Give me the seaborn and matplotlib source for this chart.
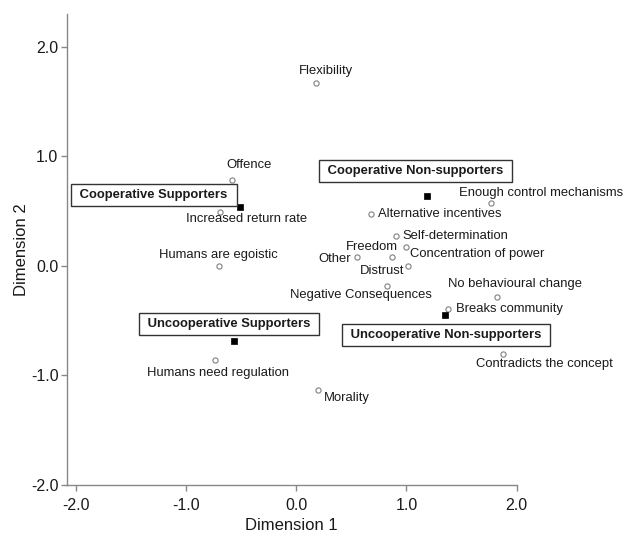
import seaborn as sns
import pandas as pd
import matplotlib.pyplot as plt

# category points (open circles)
cat_names = ['Flexibility', 'Offence', 'Increased return rate', 'Humans are egoistic',
             'Enough control mechanisms', 'Alternative incentives', 'Self-determination',
             'Concentration of power', 'Freedom', 'Other', 'Distrust',
             'Negative Consequences', 'No behavioural change', 'Breaks community',
             'Contradicts the concept', 'Morality', 'Humans need regulation']
cat_dim1 = [0.18, -0.58, -0.69, -0.70, 1.77, 0.68, 0.91, 1.00, 0.87, 0.55, 1.01,
            0.82, 1.82, 1.38, 1.88, 0.20, -0.735]
cat_dim2 = [1.67, 0.78, 0.49, 0.00, 0.57, 0.47, 0.27, 0.17, 0.085, 0.085, 0.00,
            -0.185, -0.28, -0.39, -0.80, -1.13, -0.86]

# group centroids (filled squares)
grp_names = ['Cooperative Supporters', 'Cooperative Non-supporters',
             'Uncooperative Supporters', 'Uncooperative Non-supporters']
grp_dim1 = [-0.51, 1.19, -0.56, 1.35]
grp_dim2 = [0.54, 0.64, -0.69, -0.45]

x_ticks = [-2.0, -1.0, 0.0, 1.0, 2.0]
y_ticks = [-2.0, -1.0, 0.0, 1.0, 2.0]

# label placement (offset in pixels, alignment)
cat_pos = {
    'Flexibility': (10, 12, 'center'),
    'Offence': (17, 15, 'center'),
    'Increased return rate': (26.5, -7, 'center'),
    'Humans are egoistic': (-1, 11, 'center'),
    'Enough control mechanisms': (-32, 10, 'left'),
    'Alternative incentives': (7, 0, 'left'),
    'Self-determination': (6, 0, 'left'),
    'Concentration of power': (4, -7, 'left'),
    'Freedom': (6, 9.5, 'right'),
    'Other': (-5.6, -2.6, 'right'),
    'Distrust': (-3.6, -5, 'right'),
    'Negative Consequences': (-25.5, -8.7, 'center'),
    'No behavioural change': (18, 13, 'center'),
    'Breaks community': (8, 0, 'left'),
    'Contradicts the concept': (41, -10, 'center'),
    'Morality': (6, -8.6, 'left'),
    'Humans need regulation': (2.7, -12.7, 'center'),
}
grp_pos = {
    'Cooperative Supporters': (-86, 11.7),
    'Cooperative Non-supporters': (-11.6, 24.8),
    'Uncooperative Supporters': (-5.3, 17.6),
    'Uncooperative Non-supporters': (0.8, -20),
}

sns.set_style('white')
plt.rcParams['font.family'] = ['Liberation Sans', 'DejaVu Sans']

cats = pd.DataFrame({'name': cat_names, 'd1': cat_dim1, 'd2': cat_dim2})
grps = pd.DataFrame({'name': grp_names, 'd1': grp_dim1, 'd2': grp_dim2})

fig = plt.figure(figsize=(6.27, 5.34), dpi=100)
ax = fig.add_axes([0.1064, 0.0918, 0.7177, 0.882])

sns.scatterplot(data=cats, x='d1', y='d2', ax=ax, marker='o', s=14,
                facecolor='white', edgecolor='#808080', linewidth=0.8, zorder=3)
sns.scatterplot(data=grps, x='d1', y='d2', ax=ax, marker='s', s=20,
                color='black', edgecolor='black', linewidth=0.5, zorder=4)

for _, r in cats.iterrows():
    dx, dy, ha = cat_pos[r['name']]
    ax.annotate(r['name'], (r['d1'], r['d2']), xytext=(dx, dy), textcoords='offset pixels',
                ha=ha, va='center', fontsize=9.4, color='#1a1a1a')

for _, r in grps.iterrows():
    dx, dy = grp_pos[r['name']]
    ax.annotate(' ' + r['name'] + ' ', (r['d1'], r['d2']), xytext=(dx, dy),
                textcoords='offset pixels', ha='center', va='center',
                fontsize=9.4, fontweight='bold', color='#1a1a1a',
                bbox=dict(boxstyle='square,pad=0.4', facecolor='white',
                          edgecolor='#333333', linewidth=1.0), zorder=5)

ax.set_xlim(-2.08, 2.0)
ax.set_ylim(-2.0, 2.3)
ax.set_xticks(x_ticks)
ax.set_yticks(y_ticks)
ax.set_xticklabels(['{:.1f}'.format(t) for t in x_ticks])
ax.set_yticklabels(['{:.1f}'.format(t) for t in y_ticks])
ax.tick_params(axis='both', direction='out', length=4, width=1, color='#888888',
               labelsize=11.5, labelcolor='#1a1a1a', bottom=True, left=True)
ax.tick_params(axis='x', pad=5.5)
ax.tick_params(axis='y', pad=2)
ax.set_xlabel('Dimension 1', fontsize=12, color='#1a1a1a', labelpad=3.5)
ax.set_ylabel('Dimension 2', fontsize=12, color='#1a1a1a', labelpad=1.5)

for side in ['top', 'right']:
    ax.spines[side].set_visible(False)
for side in ['left', 'bottom']:
    ax.spines[side].set_color('#888888')
    ax.spines[side].set_linewidth(1)

plt.savefig('out.png', dpi=100)
